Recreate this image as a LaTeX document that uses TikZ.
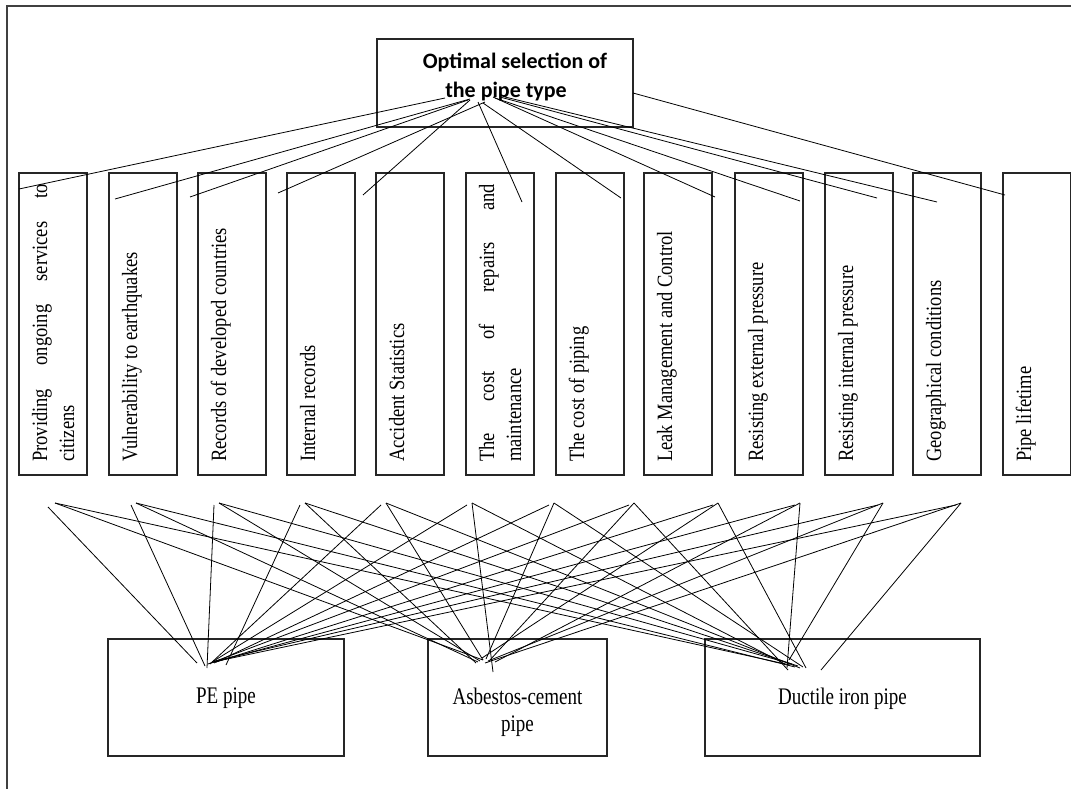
\documentclass[tikz,border=0pt]{standalone}
\usepackage{fontspec}
\usepackage{graphicx}
\setmainfont{Liberation Serif}
\newfontfamily\goalfont{Carlito}
\usetikzlibrary{calc}
\newcommand{\tallc}[1]{\scalebox{1}[1.18]{#1}}
\newcommand{\talla}[1]{\scalebox{1}[1.25]{#1}}
\begin{document}
\begin{tikzpicture}[x=1pt,y=-1pt,
  frameline/.style={line width=1.8pt, draw=black!75},
  boxstyle/.style={draw=black!85, line width=1.2pt, inner sep=0pt},
  conn/.style={line width=0.8pt, draw=black},
  crit/.style={rotate=90, anchor=base west, inner sep=0pt, font=\fontsize{18.5}{27}\selectfont},
  alttext/.style={anchor=north, inner sep=0pt, align=center, font=\fontsize{19}{27}\selectfont}]
\useasboundingbox (0,0) rectangle (1071,789);
% frame
\draw[frameline] (1071,6) -- (7,6) -- (7,789);
% goal
\node[boxstyle, minimum width=256pt, minimum height=88pt] (goal) at (505,83) {};
\node[inner sep=0pt, align=center, font=\goalfont\bfseries\fontsize{22}{29}\selectfont] (goaltext) at (515,76.5) {Optimal selection of\\the pipe type\hspace*{18pt}};
% criteria boxes
\foreach \l [count=\i] in {19,109,198,287,376,466,556,644,735,825,913,1003} {
  \node[boxstyle, minimum width=68pt, minimum height=302pt] (c\i) at (\l+34,324) {};
}
\node[crit] (t1) at (47,462) {\parbox[t]{278pt}{\tallc{\makebox[278pt][s]{Providing ongoing services to}}\\\tallc{citizens}}};
\node[crit] (t2) at (137,462) {\tallc{Vulnerability to earthquakes}};
\node[crit] (t3) at (226,462) {\tallc{Records of developed countries}};
\node[crit] (t4) at (315,462) {\tallc{Internal records}};
\node[crit] (t5) at (404,462) {\tallc{Accident Statistics}};
\node[crit] (t6) at (494,462) {\parbox[t]{278pt}{\tallc{\makebox[278pt][s]{The cost of repairs and}}\\\tallc{maintenance}}};
\node[crit] (t7) at (584,462) {\tallc{The cost of piping}};
\node[crit] (t8) at (672,462) {\tallc{Leak Management and Control}};
\node[crit] (t9) at (763,462) {\tallc{Resisting external pressure}};
\node[crit] (t10) at (853,462) {\tallc{Resisting internal pressure}};
\node[crit] (t11) at (941,462) {\tallc{Geographical conditions}};
\node[crit] (t12) at (1031,462) {\tallc{Pipe lifetime}};
% alternatives
\node[boxstyle, minimum width=236pt, minimum height=117pt] (pe) at (226,697.5) {};
\node[boxstyle, minimum width=179pt, minimum height=117pt] (ac) at (517.5,697.5) {};
\node[boxstyle, minimum width=275pt, minimum height=117pt] (di) at (842.5,697.5) {};
\node[alttext] (petext) at (226,688) {\talla{PE pipe}};
\node[alttext] (actext) at (517.5,688) {\talla{Asbestos-cement}\\\talla{pipe}};
\node[alttext] (ditext) at (842.5,688) {\talla{Ductile iron pipe}};
% top connectors
\foreach \gx/\gy/\cx/\cy [count=\i] in {445/98/19/189, 470/99/115/199, 468/100/190/197, 485/102/278/193,
  470/100/363/195, 478/102/522/202, 483/103/621/198, 493/97/715/197,
  495/98/800/201, 500/97/877/198, 505/97/937/202, 633/93/1005/195} {
  \coordinate (g\i) at (\gx,\gy);
  \coordinate (k\i) at (\cx,\cy);
  \draw[conn] (g\i) -- (k\i);
}
% bottom connector starts
\foreach \x [count=\i] in {55,136,219,305,386,472,554,634,718,800,883,961} {
  \coordinate (s\i) at (\x,503);
  \coordinate (sp\i) at (\x-5,505);
}
\coordinate (sp1) at (48,507);
% to PE
\foreach \ex/\ey [count=\i] in {197/663, 205/666, 207/668, 226/665, 210/664, 212/662, 214/663, 208/664, 216/662, 211/663, 215/661, 213/662} {
  \coordinate (pe\i) at (\ex,\ey);
  \draw[conn] (sp\i) -- (pe\i);
}
% to AC
\foreach \ex/\ey [count=\i] in {483/660, 478/662, 480/661, 476/663, 483/660, 493/672, 486/659, 490/660, 482/658, 495/662, 488/661, 485/663} {
  \coordinate (ac\i) at (\ex,\ey);
  \draw[conn] (s\i) -- (ac\i);
}
% to DI
\foreach \ex/\ey [count=\i] in {790/665, 795/667, 792/664, 798/666, 800/668, 785/664, 803/667, 788/670, 806/668, 787/668, 789/660, 821/670} {
  \coordinate (di\i) at (\ex,\ey);
  \draw[conn] (s\i) -- (di\i);
}
\end{tikzpicture}
\end{document}
